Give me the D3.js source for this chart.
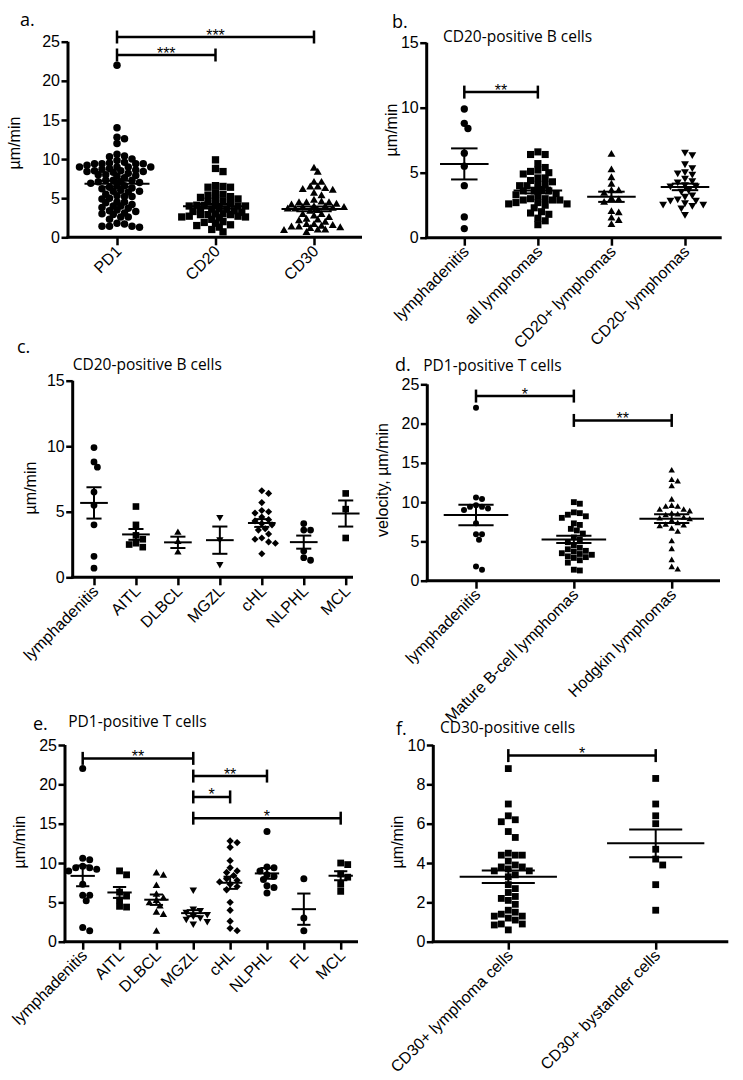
<!DOCTYPE html>
<html>
<head>
<meta charset="utf-8">
<script src="https://cdn.jsdelivr.net/npm/d3@7"></script>
<style>
  body { margin: 0; background: #fff; }
  .axis text { font-family: "Liberation Sans", Arimo, Arial, sans-serif; font-size: 16px; fill: #000; }
  .axis line, .axis path { stroke: #000; stroke-width: 2.5; }
  .ylab { font-family: "Liberation Sans", Arimo, Arial, sans-serif; font-size: 16px; }
  .title { font-family: "Open Sans", sans-serif; font-size: 15.5px; }
  .letter { font-family: "Open Sans", sans-serif; font-size: 18px; }
  .star { font-family: "Liberation Sans", Arimo, Arial, sans-serif; font-size: 16px; }
</style>
</head>
<body>
<svg id="fig" width="743" height="1080"></svg>
<script>
// PD1-positive T cells by diagnosis, µm/min (panel e)
const pd1Lymphadenitis = [22.0, 10.6, 10.4, 9.6, 9.4, 9.4, 9.2, 9.0, 7.3, 5.9, 5.9, 5.2, 1.8, 1.4];
const pd1AITL = [9.0, 8.5, 6.3, 5.8, 5.3, 4.5, 4.4];
const pd1DLBCL = [8.7, 8.4, 7.1, 6.0, 5.5, 5.2, 4.9, 4.5, 3.7, 3.4, 1.3];
const pd1MGZL = [6.6, 4.2, 4.0, 3.8, 3.5, 3.3, 3.1, 2.9, 2.6, 2.3];
const pd1cHL = [12.8, 12.6, 12.0, 10.3, 9.4, 9.0, 8.8, 8.4, 8.0, 7.8, 7.6, 7.3, 7.0, 6.6, 5.0, 4.0, 2.6, 1.7, 1.4];
const pd1NLPHL = [14.0, 9.5, 9.4, 9.0, 8.5, 8.3, 7.9, 7.1, 6.9, 6.2];
const pd1FL = [8.0, 3.0, 1.4];
const pd1MCL = [10.0, 9.8, 8.6, 8.2, 7.3, 6.4];

// CD20-positive B cells by diagnosis, µm/min (panel c)
const cd20Lymphadenitis = [9.9, 8.8, 8.4, 6.5, 5.5, 4.0, 1.6, 0.7];
const cd20AITL = [5.4, 4.0, 3.2, 2.9, 2.6, 2.5, 2.3];
const cd20DLBCL = [3.4, 2.7, 1.9];
const cd20MGZL = [4.6, 2.9, 1.0];
const cd20cHL = [6.6, 6.4, 5.7, 5.1, 5.0, 4.9, 4.6, 4.4, 4.3, 4.1, 4.0, 3.7, 3.6, 3.3, 3.0, 2.9, 2.7, 2.6, 1.8];
const cd20NLPHL = [4.1, 3.6, 3.6, 2.0, 1.5, 1.3];
const cd20MCL = [6.4, 5.2, 3.0];

// CD30-positive cells, µm/min (panel f)
const cd30Lymphoma = [8.8, 7.0, 6.4, 6.2, 6.1, 5.6, 5.3, 4.5, 4.4, 4.4, 4.4, 4.1, 3.9, 3.8, 3.8, 3.7, 3.6, 3.6, 3.4, 3.3,
  2.9, 2.7, 2.5, 2.3, 2.2, 2.1, 1.9, 1.6, 1.5, 1.4, 1.3, 1.3, 1.2, 1.1, 0.9, 0.9, 0.85, 0.6];
const cd30Bystander = [8.3, 7.0, 6.4, 6.0, 4.7, 4.2, 3.9, 2.9, 1.6];

// categories
const catsA = ["PD1", "CD20", "CD30"];
const catsB = ["lymphadenitis", "all lymphomas", "CD20+ lymphomas", "CD20- lymphomas"];
const catsC = ["lymphadenitis", "AITL", "DLBCL", "MGZL", "cHL", "NLPHL", "MCL"];
const catsD = ["lymphadenitis", "Mature B-cell lymphomas", "Hodgkin lymphomas"];
const catsE = ["lymphadenitis", "AITL", "DLBCL", "MGZL", "cHL", "NLPHL", "FL", "MCL"];
const catsF = ["CD30+ lymphoma cells", "CD30+ bystander cells"];

// y tick labels
const ticks25 = [0, 5, 10, 15, 20, 25];
const ticks15 = [0, 5, 10, 15];
const ticks10 = [0, 2, 4, 6, 8, 10];

// significance brackets (y in µm/min)
const sigA = [["PD1", "CD30", 25.6, "***"], ["PD1", "CD20", 23.3, "***"]];
const sigB = [["lymphadenitis", "all lymphomas", 11.2, "**"]];
const sigD = [["lymphadenitis", "Mature B-cell lymphomas", 23.5, "*"], ["Mature B-cell lymphomas", "Hodgkin lymphomas", 20.4, "**"]];
const sigE = [["lymphadenitis", "MGZL", 23.3, "**"], ["MGZL", "NLPHL", 21.05, "**"], ["MGZL", "cHL", 18.4, "*"], ["MGZL", "MCL", 15.7, "*"]];
const sigF = [["CD30+ lymphoma cells", "CD30+ bystander cells", 9.46, "*"]];

// pooled groups
const pd1All = [].concat(pd1Lymphadenitis, pd1AITL, pd1DLBCL, pd1MGZL, pd1cHL, pd1NLPHL, pd1FL, pd1MCL);
const cd20Lymphomas = [].concat(cd20AITL, cd20DLBCL, cd20MGZL, cd20cHL, cd20NLPHL, cd20MCL);
const cd20All = [].concat(cd20Lymphadenitis, cd20Lymphomas);
const cd30All = [].concat(cd30Lymphoma, cd30Bystander);

const svg = d3.select("#fig");

const shapes = {
  circle: d => d3.symbol().type(d3.symbolCircle).size(Math.PI * d * d / 4)(),
  square: d => d3.symbol().type(d3.symbolSquare).size(d * d * 0.95)(),
  triangle: d => d3.symbol().type(d3.symbolTriangle).size(d * d * 0.5)(),
  down: d => d3.symbol().type(d3.symbolTriangle).size(d * d * 0.5)(),
  diamond: d => d3.symbol().type(d3.symbolSquare).size(d * d * 0.55)()
};
const rot = {circle: 0, square: 0, triangle: 0, down: 180, diamond: 45};

// simple beeswarm: top to bottom, nearest free horizontal slot
function swarm(values, y, cx, dia, tight) {
  const pts = values.map(v => ({v: v, y: y(v)})).sort((a, b) => a.y - b.y);
  const placed = [];
  const minD = dia * tight;
  pts.forEach(p => {
    for (let k = 0; k < 400; k++) {
      const off = (k % 2 ? 1 : -1) * Math.ceil(k / 2) * dia * 0.5;
      const ok = placed.every(q => Math.hypot(q.x - (cx + off), q.y - p.y) >= minD);
      if (ok) { p.x = cx + off; break; }
    }
    placed.push(p);
  });
  return placed;
}

function drawPanel(p) {
  const g = svg.append("g");
  const y = d3.scaleLinear().domain([0, p.max]).range([p.bottom, p.top]);
  const x = d3.scalePoint().domain(p.cats).range([p.first, p.last]);
  const step = x.step();

  // axes
  const ya = g.append("g").attr("class", "axis")
    .attr("transform", "translate(" + p.ax + ",0)")
    .call(d3.axisLeft(y).tickValues(p.ticks).tickSize(6.5).tickSizeOuter(0).tickPadding(1.5).tickFormat(d3.format("d")));
  ya.select(".domain").remove();
  g.append("line").attr("x1", p.ax).attr("x2", p.ax).attr("y1", p.top).attr("y2", p.bottom + 1.2)
    .attr("stroke", "#000").attr("stroke-width", 3);

  const xa = g.append("g").attr("class", "axis")
    .attr("transform", "translate(0," + p.bottom + ")")
    .call(d3.axisBottom(x).tickSize(8).tickSizeOuter(0));
  xa.select(".domain").remove();
  xa.selectAll("text")
    .attr("text-anchor", "end")
    .attr("x", 0).attr("y", 0).attr("dy", 0)
    .attr("transform", "translate(5,15) rotate(-45)");
  g.append("line").attr("x1", p.ax - 1.5).attr("x2", p.xEnd).attr("y1", p.bottom).attr("y2", p.bottom)
    .attr("stroke", "#000").attr("stroke-width", 3);

  // labels
  g.append("text").attr("class", "ylab")
    .attr("transform", "translate(" + p.ylabAt[0] + "," + p.ylabAt[1] + ") rotate(-90)")
    .attr("text-anchor", "middle").attr("dy", "0.35em").text(p.ylab);
  g.append("text").attr("class", "letter").attr("x", p.letterAt[0]).attr("y", p.letterAt[1]).text(p.letter);
  if (p.title) g.append("text").attr("class", "title").attr("x", p.titleAt[0]).attr("y", p.titleAt[1]).text(p.title);

  // points
  p.groups.forEach((vals, i) => {
    const cx = x(p.cats[i]);
    const shape = p.shapes[i];
    const pts = swarm(vals, y, cx, p.dia, p.tight || 0.9);
    g.append("g").selectAll("path").data(pts).enter().append("path")
      .attr("d", shapes[shape](p.dia))
      .attr("transform", d => "translate(" + d.x + "," + d.y + ") rotate(" + rot[shape] + ")")
      .attr("fill", "#000");

    // mean ± SEM
    const m = d3.mean(vals);
    const sem = d3.deviation(vals) / Math.sqrt(vals.length);
    const wm = step * 0.33, ws = step * 0.18;
    const lg = g.append("g").attr("stroke", "#000").attr("stroke-width", 2);
    lg.append("line").attr("x1", cx - wm).attr("x2", cx + wm).attr("y1", y(m)).attr("y2", y(m));
    lg.append("line").attr("x1", cx - ws).attr("x2", cx + ws).attr("y1", y(m + sem)).attr("y2", y(m + sem));
    lg.append("line").attr("x1", cx - ws).attr("x2", cx + ws).attr("y1", y(m - sem)).attr("y2", y(m - sem));
    lg.append("line").attr("x1", cx).attr("x2", cx).attr("y1", y(m + sem)).attr("y2", y(m - sem));
  });

  // significance brackets
  (p.sig || []).forEach(s => {
    const x1 = x(s[0]), x2 = x(s[1]), yy = y(s[2]);
    const bg = g.append("g").attr("stroke", "#000").attr("stroke-width", 2.5);
    bg.append("line").attr("x1", x1).attr("x2", x2).attr("y1", yy).attr("y2", yy);
    bg.append("line").attr("x1", x1).attr("x2", x1).attr("y1", yy - 6.5).attr("y2", yy + 6.5);
    bg.append("line").attr("x1", x2).attr("x2", x2).attr("y1", yy - 6.5).attr("y2", yy + 6.5);
    g.append("text").attr("class", "star").attr("x", (x1 + x2) / 2).attr("y", yy + 3.5)
      .attr("text-anchor", "middle").text(s[3]);
  });
}

drawPanel({letter: "a.", letterAt: [20, 26], title: null,
  ax: 68, xEnd: 362, top: 41.7, bottom: 237.3, max: 25, ticks: ticks25,
  ylab: "µm/min", ylabAt: [14, 143], cats: catsA, first: 117, last: 314,
  groups: [pd1All, cd20All, cd30All], shapes: ["circle", "square", "triangle"], dia: 7.5, tight: 0.72, sig: sigA});

drawPanel({letter: "b.", letterAt: [392, 28], title: "CD20-positive B cells", titleAt: [443, 42],
  ax: 426.7, xEnd: 721.7, top: 42.7, bottom: 237.7, max: 15, ticks: ticks15,
  ylab: "µm/min", ylabAt: [391, 130], cats: catsB, first: 464.3, last: 685,
  groups: [cd20Lymphadenitis, cd20Lymphomas,
    [].concat(cd20DLBCL, cd20MGZL, cd20NLPHL, cd20MCL), [].concat(cd20AITL, cd20cHL)],
  shapes: ["circle", "square", "triangle", "down"], dia: 7.3, tight: 0.8, sig: sigB});

drawPanel({letter: "c.", letterAt: [17, 353], title: "CD20-positive B cells", titleAt: [72.7, 370],
  ax: 72.7, xEnd: 353, top: 380.7, bottom: 577.3, max: 15, ticks: ticks15,
  ylab: "µm/min", ylabAt: [30, 488], cats: catsC, first: 94, last: 345.7,
  groups: [cd20Lymphadenitis, cd20AITL, cd20DLBCL, cd20MGZL, cd20cHL, cd20NLPHL, cd20MCL],
  shapes: ["circle", "square", "triangle", "down", "diamond", "circle", "square"], dia: 6.8, tight: 0.85, sig: []});

drawPanel({letter: "d.", letterAt: [395, 371], title: "PD1-positive T cells", titleAt: [423.3, 371],
  ax: 427.3, xEnd: 720, top: 384.3, bottom: 580.7, max: 25, ticks: ticks25,
  ylab: "velocity, µm/min", ylabAt: [382, 480], cats: catsD, first: 476, last: 671.7,
  groups: [pd1Lymphadenitis, [].concat(pd1DLBCL, pd1MGZL, pd1FL, pd1MCL), [].concat(pd1cHL, pd1NLPHL)],
  shapes: ["circle", "square", "triangle"], dia: 6, tight: 1.0, sig: sigD});

drawPanel({letter: "e.", letterAt: [33, 730], title: "PD1-positive T cells", titleAt: [68.3, 727],
  ax: 65, xEnd: 358, top: 745, bottom: 941.7, max: 25, ticks: ticks25,
  ylab: "µm/min", ylabAt: [19, 842], cats: catsE, first: 82.7, last: 340.7,
  groups: [pd1Lymphadenitis, pd1AITL, pd1DLBCL, pd1MGZL, pd1cHL, pd1NLPHL, pd1FL, pd1MCL],
  shapes: ["circle", "square", "triangle", "down", "diamond", "circle", "circle", "square"], dia: 7, tight: 0.82, sig: sigE});

drawPanel({letter: "f.", letterAt: [396, 735], title: "CD30-positive cells", titleAt: [440, 733],
  ax: 433.3, xEnd: 728.3, top: 745, bottom: 941.7, max: 10, ticks: ticks10,
  ylab: "µm/min", ylabAt: [397, 842], cats: catsF, first: 508.3, last: 655.7,
  groups: [cd30Lymphoma, cd30Bystander], shapes: ["square", "square"], dia: 7, tight: 1.0, sig: sigF});
</script>
</body>
</html>
